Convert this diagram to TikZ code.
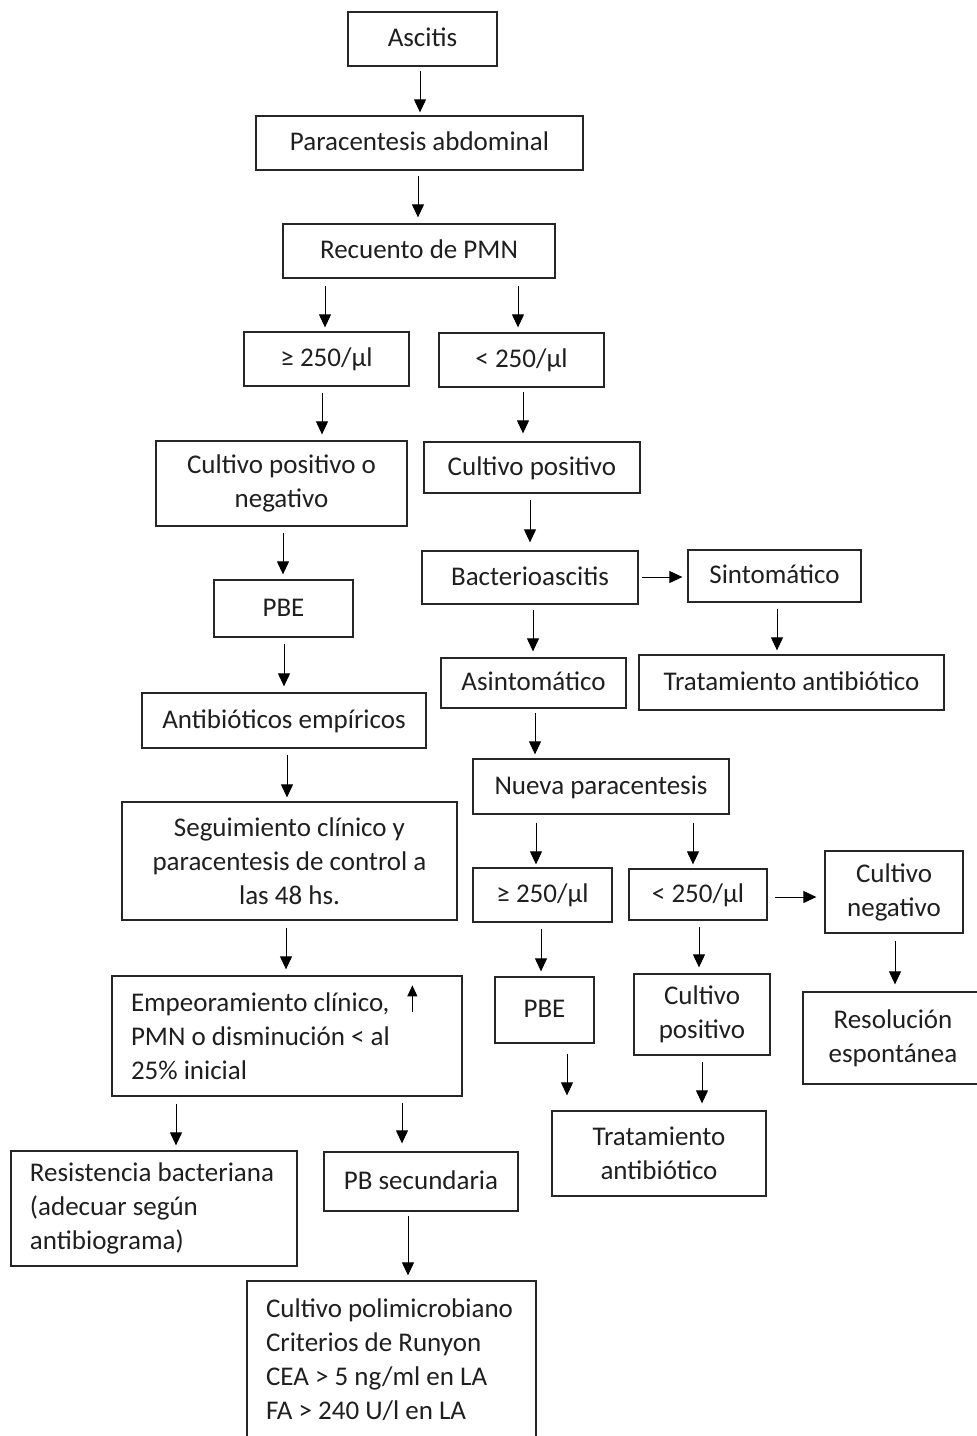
\documentclass[tikz,border=0pt]{standalone}
\usepackage{fontspec}
\setmainfont{Carlito}
\usetikzlibrary{arrows.meta,calc}
\newcommand\fs{\fontsize{27}{34}\selectfont}
\newcommand\bx[7]{\node[box, minimum width={#3-#2}, minimum height={#5-#4}, #6] (#1) at ({(#2+#3)/2},{(#4+#5)/2}) {#7};}
\newcommand\va[5]{\draw[arr, shorten <=#4pt, shorten >=#5pt] (#1.south -| #3,0) -- (#2.north -| #3,0);}
\tikzset{
  box/.style={draw=black!85, line width=1.3pt, inner sep=0pt, font=\fs, text=black!88},
  s/.style={text height=19pt, text depth=4pt},
  lft/.style={align=flush left, inner xsep=19pt},
  arr/.style={draw=black, line width=1pt, -{Triangle[length=13pt,width=12pt]}},
}
\begin{document}
\begin{tikzpicture}[x=1pt,y=-1pt]
\useasboundingbox (0,0) rectangle (977,1436);
\bx{asc}{348}{497}{12}{66}{s}{Ascitis}
\bx{para}{256}{583}{116}{170}{s}{Paracentesis abdominal}
\bx{rec}{283}{555}{224}{278}{s}{Recuento de PMN}
\bx{ge1}{244}{409}{332}{386}{s}{≥ 250/µl}
\bx{lt1}{439}{604}{333}{387}{s}{< 250/µl}
\bx{cpn}{156}{407}{441}{526}{align=center}{Cultivo positivo o\\negativo}
\bx{cp}{424}{640}{442}{493}{s}{Cultivo positivo}
\bx{pbe}{214}{353}{580}{637}{s}{PBE}
\bx{bact}{422}{638}{551}{604}{s}{Bacterioascitis}
\bx{sint}{688}{861}{550}{602}{s}{Sintomático}
\bx{asint}{441}{626}{658}{708}{s}{Asintomático}
\bx{trat}{639}{944}{655}{710}{s}{Tratamiento antibiótico}
\bx{atb}{142}{426}{693}{748}{s}{Antibióticos empíricos}
\bx{seg}{122}{457}{802}{920}{align=center}{Seguimiento clínico y\\paracentesis de control a\\las 48 hs.}
\bx{nueva}{473}{729}{759}{814}{s}{Nueva paracentesis}
\bx{ge2}{473}{612}{868}{922}{s}{≥ 250/µl}
\bx{lt2}{629}{767}{869}{920}{s}{< 250/µl}
\bx{cneg}{825}{963}{851}{933}{align=center}{Cultivo\\negativo}
\bx{emp}{112}{462}{976}{1096}{lft, text width=312pt}{Empeoramiento~clínico,\\PMN~o~disminución~<~al\\25\%~inicial}
\bx{pbe2}{495}{594}{977}{1043}{s}{PBE}
\bx{cp2}{634}{770}{974}{1055}{align=center}{Cultivo\\positivo}
\bx{res}{803}{983}{992}{1084}{align=center}{Resolución\\espontánea}
\bx{trat2}{552}{766}{1111}{1196}{align=center}{Tratamiento\\antibiótico}
\bx{resb}{11}{297}{1151}{1266}{lft, text width=248pt}{Resistencia~bacteriana\\(adecuar~según\\antibiograma)}
\bx{pbs}{324}{518}{1152}{1211}{s}{PB secundaria}
\bx{cpoli}{247}{536}{1281}{1438}{lft, text width=251pt}{Cultivo~polimicrobiano\\Criterios~de~Runyon\\CEA~>~5~ng/ml~en~LA\\FA~>~240~U/l~en~LA}
% vertical arrows
\va{asc}{para}{420}{4}{3}
\va{para}{rec}{418}{5}{6}
\va{rec}{ge1}{325}{7}{4}
\va{rec}{lt1}{518}{7}{5}
\va{ge1}{cpn}{322}{6}{6}
\va{lt1}{cp}{523}{4}{8}
\va{cpn}{pbe}{283}{6}{5}
\va{cp}{bact}{530}{6}{8}
\va{bact}{asint}{533}{5}{6}
\va{sint}{trat}{777}{6}{4}
\va{pbe}{atb}{284}{6}{6}
\va{atb}{seg}{287}{6}{4}
\va{asint}{nueva}{535}{4}{4}
\va{nueva}{ge2}{536}{8}{3}
\va{nueva}{lt2}{693}{8}{4}
\va{seg}{emp}{286}{7}{6}
\va{ge2}{pbe2}{541}{6}{5}
\va{lt2}{cp2}{699}{6}{6}
\va{cneg}{res}{895}{7}{7}
\va{pbe2}{trat2}{567}{10}{15}
\va{cp2}{trat2}{702}{6}{7}
\va{emp}{resb}{176}{7}{5}
\va{emp}{pbs}{402}{6}{8}
\va{pbs}{cpoli}{408}{4}{5}
% horizontal arrows
\draw[arr, shorten <=3pt, shorten >=5pt] (bact.east |- 0,577) -- (sint.west |- 0,577);
\draw[arr, shorten <=7pt, shorten >=8pt] (lt2.east |- 0,897) -- (cneg.west |- 0,897);
% up arrow inside text
\draw[line width=1pt, -{Triangle[length=11pt,width=10pt]}] ($(emp.north west)+(301,37)$) -- ++(0,-27);
\end{tikzpicture}
\end{document}
